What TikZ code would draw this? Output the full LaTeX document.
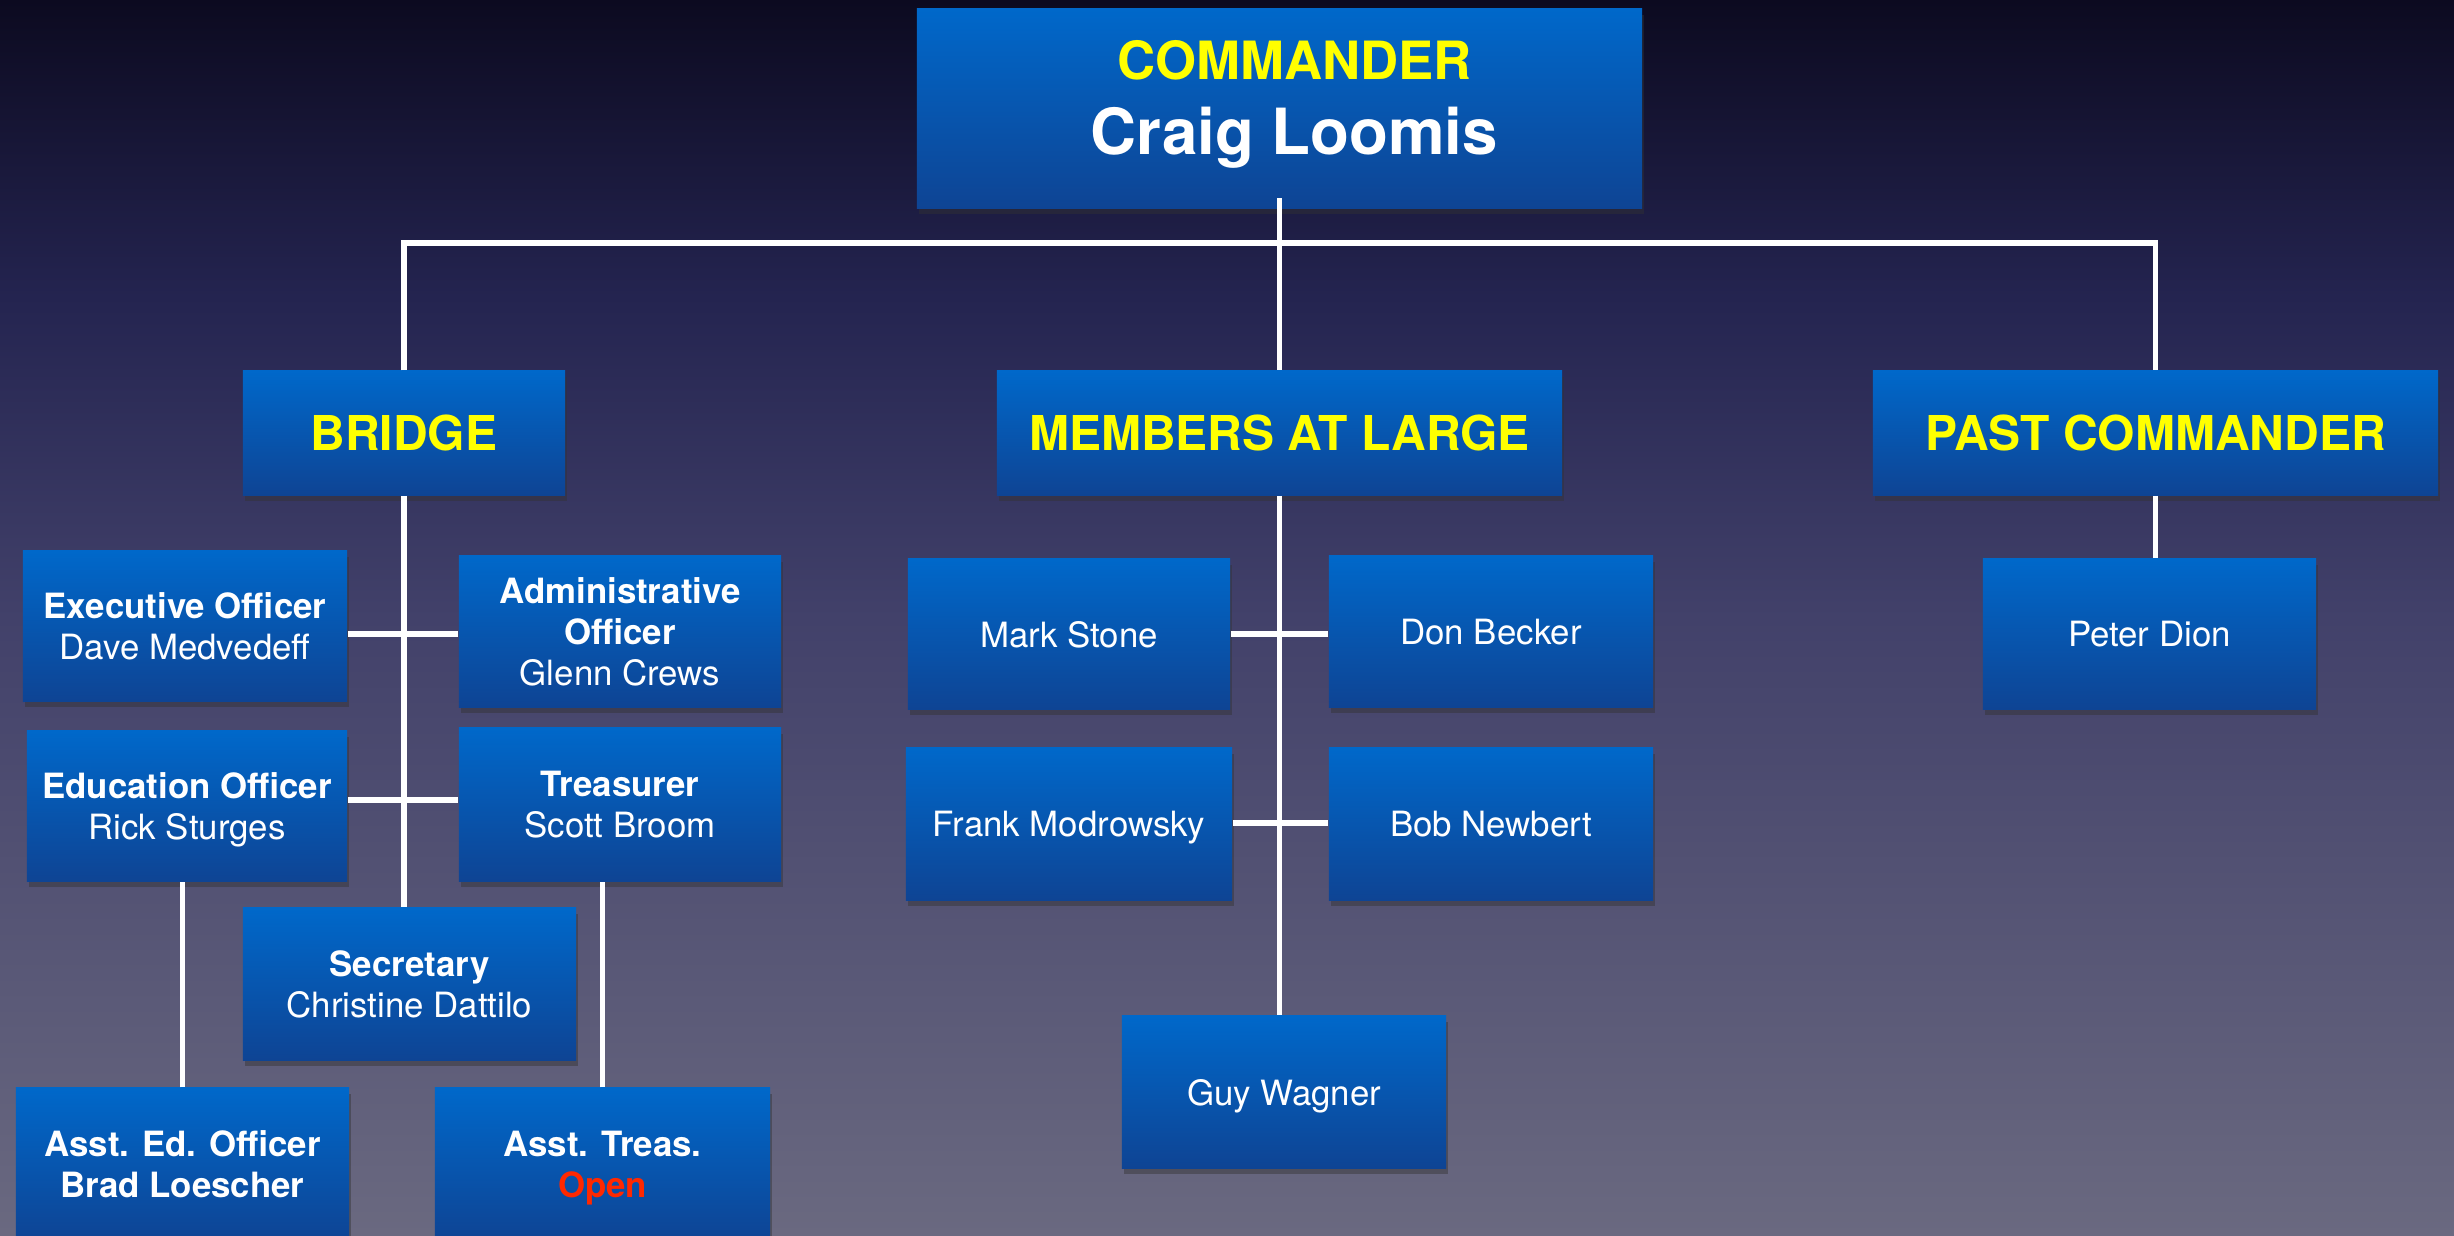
\documentclass[tikz,border=0pt]{standalone}
\usepackage{fontspec}
\setmainfont{TeX Gyre Heros}
\usetikzlibrary{shadows}
\definecolor{bgtop}{RGB}{12,10,32}
\definecolor{bgup}{RGB}{36,36,80}
\definecolor{bgmid}{RGB}{66,65,106}
\definecolor{bgbot}{RGB}{106,105,128}
\definecolor{boxtop}{RGB}{0,104,202}
\definecolor{boxmid}{RGB}{2,84,168}
\definecolor{boxbot}{RGB}{14,68,148}
\definecolor{headyellow}{RGB}{255,255,0}
\definecolor{openred}{RGB}{255,40,0}
\pgfdeclareverticalshading{bgshade}{100bp}{color(0bp)=(bgbot); color(25bp)=(bgbot); color(50bp)=(bgmid); color(63bp)=(bgup); color(75bp)=(bgtop); color(100bp)=(bgtop)}
\begin{document}
\begin{tikzpicture}[x=0.01cm,y=-0.01cm,
  box/.style={rectangle, inner sep=0pt, align=center, text=white,
    top color=boxtop, middle color=boxmid, bottom color=boxbot,
    drop shadow={shadow xshift=0.6pt, shadow yshift=-1.6pt, opacity=0.45, fill=black!80}},
  smallbox/.style={box, text depth=0pt, font=\fontsize{9.9}{11.7}\selectfont},
  headbox/.style={box, text=headyellow, font=\bfseries\fontsize{13.66}{16}\selectfont},
  conn/.style={draw=white, line width=1.5pt}
]
\useasboundingbox (0,0) rectangle (2454,1235);
\clip (0,0) rectangle (2454,1235);
\shade[shading=bgshade] (0,0) rectangle (2454,1235);

% top
\node[box, minimum width=7.25cm, minimum height=1.99cm] (cmd) at (1279.5,108.5) {};
\node[align=center, text=white, inner sep=0pt, font=\bfseries\fontsize{18.1}{21.3}\selectfont] (cmdtext) at ([xshift=0.15cm, yshift=0.04cm]cmd.center)
  {{\color{headyellow}\fontsize{15}{21.3}\selectfont COMMANDER}\\Craig Loomis};

% headings
\node[headbox, minimum width=3.22cm, minimum height=1.24cm] (bridge) at (404,433) {BRIDGE};
\node[headbox, minimum width=5.65cm, minimum height=1.24cm] (members) at (1279.5,433) {MEMBERS AT LARGE};
\node[headbox, minimum width=5.65cm, minimum height=1.24cm] (past) at (2155.5,433) {PAST COMMANDER};

% bridge
\node[smallbox, minimum width=3.24cm, minimum height=1.50cm] (exec) at (185,626) {\textbf{Executive Officer}\\Dave Medvedeff};
\node[smallbox, minimum width=3.22cm, minimum height=1.51cm] (admin) at (620,631.5) {\textbf{Administrative}\\\textbf{Officer}\\Glenn Crews};
\node[smallbox, minimum width=3.20cm, minimum height=1.50cm] (edu) at (187,806) {\textbf{Education Officer}\\Rick Sturges};
\node[smallbox, minimum width=3.22cm, minimum height=1.53cm] (treas) at (620,804.5) {\textbf{Treasurer}\\Scott Broom};
\node[smallbox, minimum width=3.33cm, minimum height=1.52cm] (sec) at (409.5,984) {\textbf{Secretary}\\Christine Dattilo};
\node[smallbox, minimum width=3.33cm, minimum height=1.52cm, font=\bfseries\fontsize{9.9}{11.7}\selectfont] (asted) at (182.5,1164) {Asst. Ed. Officer\\Brad Loescher};
\node[smallbox, minimum width=3.35cm, minimum height=1.52cm, font=\bfseries\fontsize{9.9}{11.7}\selectfont] (asttr) at (602.5,1164) {Asst. Treas.\\{\color{openred}Open}};

% members
\node[smallbox, minimum width=3.22cm, minimum height=1.50cm] (mark) at (1069,634) {Mark Stone};
\node[smallbox, minimum width=3.24cm, minimum height=1.51cm] (don) at (1491,631.5) {Don Becker};
\node[smallbox, minimum width=3.26cm, minimum height=1.52cm] (frank) at (1069,824) {Frank Modrowsky};
\node[smallbox, minimum width=3.24cm, minimum height=1.52cm] (bob) at (1491,824) {Bob Newbert};
\node[smallbox, minimum width=3.24cm, minimum height=1.52cm] (guy) at (1284,1092) {Guy Wagner};

% past
\node[smallbox, minimum width=3.33cm, minimum height=1.50cm] (peter) at (2149.5,634) {Peter Dion};

% junction coordinates
\coordinate (bar) at (1279.5,243);
\coordinate (j1) at (404,634);
\coordinate (j2) at (404,800);
\coordinate (m1) at (1280,634);
\coordinate (m2) at (1280,823);

% connectors
\draw[conn] ([yshift=3pt]cmd.south) -- (members.north);
\draw[conn] (bridge.north) |- (bar) -| (past.north);
\draw[conn] (bridge.south) -- (bridge.south |- sec.north);
\draw[conn] (exec.east |- j1) -- (admin.west |- j1);
\draw[conn] (edu.east |- j2) -- (treas.west |- j2);
\draw[conn] (asted.north) -- (asted.north |- edu.south);
\draw[conn] (asttr.north) -- (asttr.north |- treas.south);
\draw[conn] (members.south) -- (members.south |- guy.north);
\draw[conn] (mark.east |- m1) -- (don.west |- m1);
\draw[conn] (frank.east |- m2) -- (bob.west |- m2);
\draw[conn] (past.south) -- (past.south |- peter.north);
\end{tikzpicture}
\end{document}
